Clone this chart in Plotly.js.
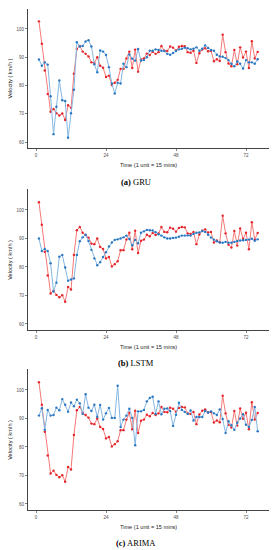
<!DOCTYPE html>
<html>
<head>
<meta charset="utf-8">
<script src="https://cdn.plot.ly/plotly-3.0.1.min.js"></script>
<style>html,body{margin:0;padding:0;background:#fff;}#chart{width:273px;height:550px;}</style>
</head>
<body>
<div id="chart"></div>
<script>
// time index (1 unit = 15 mins)
const timeSteps = Array.from({length: 76}, (_, i) => i + 1);

// observed velocity (km/h), same in all three panels
const actual = [102.7,94.8,85.3,77,70.7,71.7,70.2,69.4,70.1,67.8,73,72.1,84.2,92.9,94,92,91.2,90.3,88.2,88,
  90,87,86.3,83,83.5,80.2,81,82,85.9,85.9,89.6,92,86.2,92.7,84.9,89.2,89.6,91.3,90.8,91.9,
  91.2,91.8,94,92.3,92.2,93.8,93.4,92.4,93.7,94,93.9,91.8,91.6,92.3,88,91.4,92.7,93.2,92.1,92.3,
  88.6,89.3,88.7,98,91.8,87.8,86.8,92.6,87.5,93.5,89.9,92,86.2,95.7,89.6,91.9];

// predictions
const gruPred = [89.2,87,88.2,87.4,76.2,62.8,72.5,81.8,74.8,74.5,61.5,70.2,78.5,95.3,93.8,94,95.6,96,93.8,87.5,
  84.7,92.4,92,90.8,86.5,80.7,77.2,81,80.7,87.7,86.5,91,89.5,88.8,92.9,88.8,89,90,92.3,92.3,
  92.8,92.6,92.3,92.2,91.2,90.9,91.5,92.2,92.8,93,93.4,93.2,92.8,93,93.5,92.3,93,94.2,93.3,92.6,
  92.3,90.9,90.3,90.2,89.7,89,87.7,86.8,88.5,87.7,86,89,88.2,88.2,87.7,89.3];

const lstmPred = [90,85.6,86.3,85.6,81.3,71.4,74.5,83.6,84.2,79.8,75.2,75.6,76,84.2,89,90.4,91.3,89.1,86,83,
  80.6,81.7,83.5,85.2,87.2,88.6,89.5,89.7,90,90.4,91,89.8,87.6,89.5,88.3,92,92.5,93,92.9,92.8,
  92.2,91.5,91,90.4,90,90,90.2,90.3,90.6,91,91,91.1,91,91.6,92,92.1,92.6,92.3,91.3,90.3,
  89.6,89,88.6,88.5,88.8,88.5,88.5,88.8,89.1,89.3,89.4,89.5,89.6,89.9,89.2,89.7];

const arimaPred = [91,93.6,86,93,91,91.2,93.8,92.9,96.8,94.8,92.4,95.6,94.3,96.6,95.3,91.6,98.5,93.8,92.6,94.8,
  90.6,94.7,89.6,91.8,93.7,90.2,90.2,101.5,87,89.6,91,93.4,90.2,80.6,92.5,92.5,93,96,97.2,97.6,
  91.6,96,91.5,93.4,93.5,92.6,87.4,91.3,95.5,93,92.3,91.6,92.8,89.3,90.5,90.5,90.5,92.6,92.1,92.5,
  91.8,91.2,93.2,89.8,84.9,89,87.6,86,88.5,90,91.5,87.8,87,89.5,94,85.5];

const panelCaptions = ['<b>(a)</b> GRU', '<b>(b)</b> LSTM', '<b>(c)</b> ARIMA'];
const xTickVals = [0, 24, 48, 72];
const yTickVals = [60, 70, 80, 90, 100];
const xTitle = 'Time (1 unit = 15 mins)';
const yTitle = 'Velocity ( km/h )';

const H = 550;
const preds = [gruPred, lstmPred, arimaPred];
// plot area pixel rows [top, bottom] per panel
const rows = [[8.5, 148.4], [189.3, 330.4], [369.3, 510.4]];
const xTitleY = [165, 346.5, 526.5];
const captionY = [182, 363, 543];

const redLine = '#f47878', redMark = '#e4262c';
const blueLine = '#84b6e2', blueMark = '#2b78c2';

const traces = [];
const layout = {
  width: 273, height: 550,
  margin: {l: 0, r: 0, t: 0, b: 0},
  paper_bgcolor: '#fff', plot_bgcolor: '#fff',
  showlegend: false,
  font: {family: 'Liberation Sans, Arial, sans-serif', color: '#4d4d4d'},
  annotations: []
};

preds.forEach((p, i) => {
  const xa = i === 0 ? 'x' : 'x' + (i + 1);
  const ya = i === 0 ? 'y' : 'y' + (i + 1);
  traces.push({x: timeSteps, y: actual, xaxis: xa, yaxis: ya, type: 'scatter', mode: 'lines+markers',
    line: {color: redLine, width: 1}, marker: {color: redMark, size: 2.4}, hoverinfo: 'skip'});
  traces.push({x: timeSteps, y: p, xaxis: xa, yaxis: ya, type: 'scatter', mode: 'lines+markers',
    line: {color: blueLine, width: 1}, marker: {color: blueMark, size: 2.4}, hoverinfo: 'skip'});
  const xk = i === 0 ? 'xaxis' : 'xaxis' + (i + 1);
  const yk = i === 0 ? 'yaxis' : 'yaxis' + (i + 1);
  layout[xk] = {
    domain: [28 / 273, 268.6 / 273], anchor: ya, range: [-2.75, 79.75],
    tickmode: 'array', tickvals: xTickVals, ticks: 'outside', ticklen: 2, tickwidth: 0.6, tickcolor: '#333',
    showline: true, linecolor: '#444', linewidth: 1, showgrid: false, zeroline: false,
    tickfont: {size: 4.5, color: '#4d4d4d'}
  };
  layout[yk] = {
    domain: [1 - rows[i][1] / H, 1 - rows[i][0] / H], anchor: xa, range: [57.75, 107.25],
    tickmode: 'array', tickvals: yTickVals, ticks: 'outside', ticklen: 2, tickwidth: 0.6, tickcolor: '#333',
    showline: true, linecolor: '#444', linewidth: 1, showgrid: false, zeroline: false,
    tickfont: {size: 4.5, color: '#4d4d4d'}
  };
  layout.annotations.push({text: xTitle, xref: 'paper', yref: 'paper', x: 148 / 273, y: 1 - xTitleY[i] / H,
    xanchor: 'center', yanchor: 'middle', showarrow: false, font: {size: 5.6, color: '#222'}});
  layout.annotations.push({text: yTitle, xref: 'paper', yref: 'paper', x: 10 / 273,
    y: 1 - ((rows[i][0] + rows[i][1]) / 2) / H, textangle: -90,
    xanchor: 'center', yanchor: 'middle', showarrow: false, font: {size: 5.6, color: '#222'}});
  layout.annotations.push({text: panelCaptions[i], xref: 'paper', yref: 'paper', x: 136 / 273, y: 1 - captionY[i] / H,
    xanchor: 'center', yanchor: 'middle', showarrow: false,
    font: {size: 8.5, color: '#000', family: 'Liberation Serif, Times New Roman, serif'}});
});

Plotly.newPlot('chart', traces, layout, {staticPlot: true, displayModeBar: false});
</script>
</body>
</html>
